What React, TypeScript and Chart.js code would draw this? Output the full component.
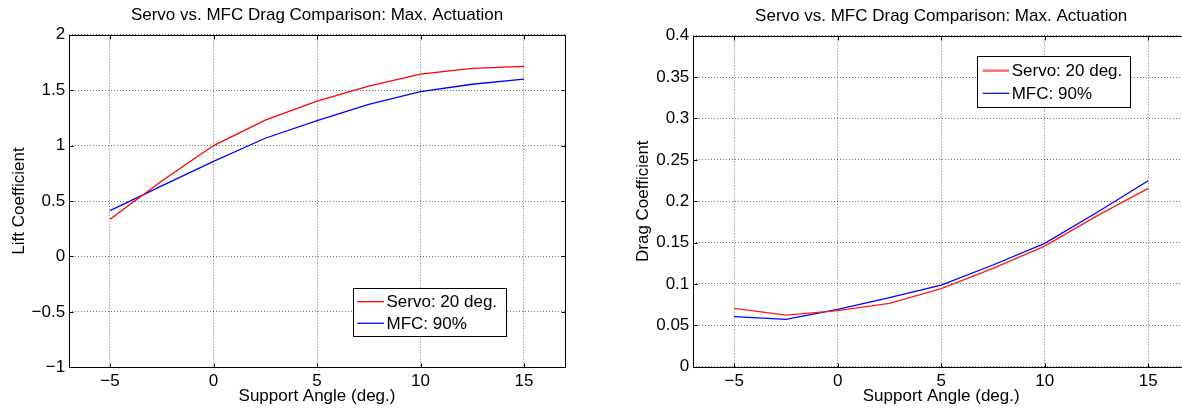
import React, { useEffect, useRef } from "react";
import { Chart, registerables } from "chart.js";

Chart.register(...registerables);

// ---------- data ----------
const ANGLES = [-5, -2.5, 0, 2.5, 5, 7.5, 10, 12.5, 15];
const LIFT_SERVO = [0.335, 0.68, 1.0, 1.23, 1.4, 1.537, 1.645, 1.697, 1.715];
const LIFT_MFC = [0.413, 0.636, 0.858, 1.066, 1.225, 1.372, 1.486, 1.553, 1.6];
const DRAG_SERVO = [0.0705, 0.0624, 0.0677, 0.0765, 0.0943, 0.1188, 0.1458, 0.182, 0.2155];
const DRAG_MFC = [0.0604, 0.0572, 0.0693, 0.0834, 0.0987, 0.1229, 0.149, 0.186, 0.2248];

const X_TICKS = [-5, 0, 5, 10, 15];
const LIFT_TICKS = [-1, -0.5, 0, 0.5, 1, 1.5, 2];
const DRAG_TICKS = [0, 0.05, 0.1, 0.15, 0.2, 0.25, 0.3, 0.35, 0.4];

const SERIES_LABELS = ["Servo: 20 deg.", "MFC: 90%"];
const TITLE = "Servo vs. MFC Drag Comparison: Max. Actuation";
const X_LABEL = "Support Angle (deg.)";
const LIFT_LABEL = "Lift Coefficient";
const DRAG_LABEL = "Drag Coefficient";

const FONT = "'Liberation Sans', Arial, Helvetica, sans-serif";
const FS = 17;

const fmt = (v: number) => String(v).replace("-", "\u2212");

// ---------- plugins ----------
const framePlugin = {
  id: "matFrame",
  afterDatasetsDraw(chart: any) {
    const { ctx, chartArea: a, scales } = chart;
    const L = Math.round(a.left) + 0.5;
    const R = Math.round(a.right) + 0.5;
    const T = Math.round(a.top) + 0.5;
    const B = Math.round(a.bottom) + 0.5;
    const tl = 4;
    ctx.save();
    ctx.strokeStyle = "#000";
    ctx.lineWidth = 1;
    ctx.setLineDash([]);
    ctx.beginPath();
    scales.x.ticks.forEach((t: any) => {
      const px = Math.round(scales.x.getPixelForValue(t.value)) + 0.5;
      ctx.moveTo(px, B);
      ctx.lineTo(px, B - tl);
      ctx.moveTo(px, T);
      ctx.lineTo(px, T + tl);
    });
    scales.y.ticks.forEach((t: any) => {
      const py = Math.round(scales.y.getPixelForValue(t.value)) + 0.5;
      ctx.moveTo(L, py);
      ctx.lineTo(L + tl, py);
      ctx.moveTo(R, py);
      ctx.lineTo(R - tl, py);
    });
    ctx.stroke();
    ctx.strokeRect(L, T, R - L, B - T);
    ctx.restore();
  },
};

const boxLegendPlugin = {
  id: "boxLegend",
  afterDraw(chart: any, _args: any, opts: any) {
    if (!opts || !opts.box) return;
    const { ctx } = chart;
    const { x, y, w, h } = opts.box;
    ctx.save();
    ctx.setLineDash([]);
    ctx.fillStyle = "#fff";
    ctx.fillRect(x, y, w, h);
    ctx.strokeStyle = "#000";
    ctx.lineWidth = 1;
    ctx.strokeRect(Math.round(x) + 0.5, Math.round(y) + 0.5, Math.round(w), Math.round(h));
    ctx.font = `${FS}px ${FONT}`;
    ctx.textBaseline = "middle";
    ctx.textAlign = "left";
    chart.data.datasets.forEach((ds: any, i: number) => {
      const ry = y + opts.firstRow + i * opts.rowGap;
      const st = (opts.styles && opts.styles[i]) || {};
      ctx.strokeStyle = st.color || ds.borderColor;
      ctx.lineWidth = st.width || ds.borderWidth;
      ctx.beginPath();
      ctx.moveTo(x + opts.padLeft, ry);
      ctx.lineTo(x + opts.padLeft + opts.lineLen, ry);
      ctx.stroke();
      ctx.fillStyle = "#000";
      ctx.fillText(ds.label, x + opts.padLeft + opts.lineLen + opts.textGap, ry + 1);
    });
    ctx.restore();
  },
};

Chart.register(framePlugin, boxLegendPlugin);

// ---------- config builder ----------
function makeConfig(p: {
  s1: number[];
  s2: number[];
  c1: string;
  c2: string;
  yTicks: number[];
  yMin: number;
  yMax: number;
  yLabel: string;
  yAxisWidth: number;
  yTitlePad: number;
  padTop: number;
  padRight: number;
  xAxisHeight: number;
  titleTop: number;
  titleBottom: number;
  legend: any;
}) {
  const gridStyle = {
    color: "rgba(0,0,0,0.55)",
    lineWidth: 1,
    drawTicks: false,
  };
  const borderStyle = { display: false, dash: [1, 2], dashOffset: 0 };
  return {
    type: "line",
    data: {
      datasets: [
        {
          label: SERIES_LABELS[0],
          data: ANGLES.map((a, i) => ({ x: a, y: p.s1[i] })),
          borderColor: p.c1,
          borderWidth: 1.3,
          pointRadius: 0,
          tension: 0,
          fill: false,
        },
        {
          label: SERIES_LABELS[1],
          data: ANGLES.map((a, i) => ({ x: a, y: p.s2[i] })),
          borderColor: p.c2,
          borderWidth: 1.3,
          pointRadius: 0,
          tension: 0,
          fill: false,
        },
      ],
    },
    options: {
      animation: false,
      responsive: true,
      maintainAspectRatio: false,
      devicePixelRatio: 1,
      layout: { padding: { top: p.padTop, right: p.padRight, left: 0, bottom: 0 } },
      plugins: {
        legend: { display: false },
        tooltip: { enabled: false },
        title: {
          display: true,
          text: TITLE,
          fullSize: false,
          color: "#000",
          font: { family: FONT, size: FS, weight: "normal" },
          padding: { top: p.titleTop, bottom: p.titleBottom },
        },
        boxLegend: p.legend,
      },
      scales: {
        x: {
          type: "linear",
          min: -7,
          max: 17,
          afterBuildTicks: (s: any) => {
            s.ticks = X_TICKS.map((v) => ({ value: v }));
          },
          afterFit: (s: any) => {
            s.height = p.xAxisHeight;
          },
          grid: gridStyle,
          border: borderStyle,
          ticks: {
            color: "#000",
            padding: 4,
            maxRotation: 0,
            font: { family: FONT, size: FS },
            callback: (v: any) => fmt(Number(v)),
          },
          title: {
            display: true,
            text: X_LABEL,
            color: "#000",
            font: { family: FONT, size: FS },
            padding: { top: 0, bottom: 2 },
          },
        },
        y: {
          type: "linear",
          min: p.yMin,
          max: p.yMax,
          afterBuildTicks: (s: any) => {
            s.ticks = p.yTicks.map((v) => ({ value: v }));
          },
          afterFit: (s: any) => {
            s.width = p.yAxisWidth;
          },
          grid: gridStyle,
          border: borderStyle,
          ticks: {
            color: "#000",
            padding: 3.5,
            font: { family: FONT, size: FS },
            callback: (v: any) => fmt(Number(v)),
          },
          title: {
            display: true,
            text: p.yLabel,
            color: "#000",
            font: { family: FONT, size: FS },
            padding: { top: p.yTitlePad, bottom: 0 },
          },
        },
      },
    },
  } as any;
}

function Plot({ config, left, width }: { config: any; left: number; width: number }) {
  const ref = useRef<HTMLCanvasElement>(null);
  useEffect(() => {
    const chart = new Chart(ref.current as HTMLCanvasElement, config);
    return () => chart.destroy();
  }, []);
  return (
    <div style={{ position: "absolute", left, top: 0, width, height: 409 }}>
      <canvas ref={ref} />
    </div>
  );
}

const liftConfig = makeConfig({
  s1: LIFT_SERVO,
  s2: LIFT_MFC,
  c1: "#ff0000",
  c2: "#0000ff",
  yTicks: LIFT_TICKS,
  yMin: -1,
  yMax: 2,
  yLabel: LIFT_LABEL,
  yAxisWidth: 68.6,
  yTitlePad: 8.8,
  padTop: 0,
  padRight: 24.6,
  xAxisHeight: 41.7,
  titleTop: 5,
  titleBottom: 9.3,
  legend: {
    box: { x: 352.7, y: 288.3, w: 153, h: 48.4 },
    firstRow: 13.4,
    rowGap: 21.6,
    padLeft: 4.6,
    lineLen: 26.7,
    textGap: 2.5,
  },
});

const dragConfig = makeConfig({
  s1: DRAG_SERVO,
  s2: DRAG_MFC,
  c1: "#ff1a1a",
  c2: "#0000ff",
  yTicks: DRAG_TICKS,
  yMin: 0,
  yMax: 0.4,
  yLabel: DRAG_LABEL,
  yAxisWidth: 92.8,
  yTitlePad: 33.6,
  padTop: 1,
  padRight: 10.4,
  xAxisHeight: 42.3,
  titleTop: 5,
  titleBottom: 9.3,
  legend: {
    box: { x: 377.3, y: 56, w: 153.4, h: 50.7 },
    firstRow: 14.7,
    rowGap: 22.6,
    padLeft: 5.4,
    lineLen: 26.6,
    textGap: 2.4,
    styles: [{ color: "#ff7070", width: 2.5 }, { color: "#0000cc", width: 1.2 }],
  },
});

export default function App() {
  return (
    <div
      style={{
        position: "fixed",
        left: 0,
        top: 0,
        width: 1182,
        height: 409,
        overflow: "hidden",
        background: "#fff",
      }}
    >
      <Plot config={liftConfig} left={0} width={590} />
      <Plot config={dragConfig} left={600} width={600} />
    </div>
  );
}
